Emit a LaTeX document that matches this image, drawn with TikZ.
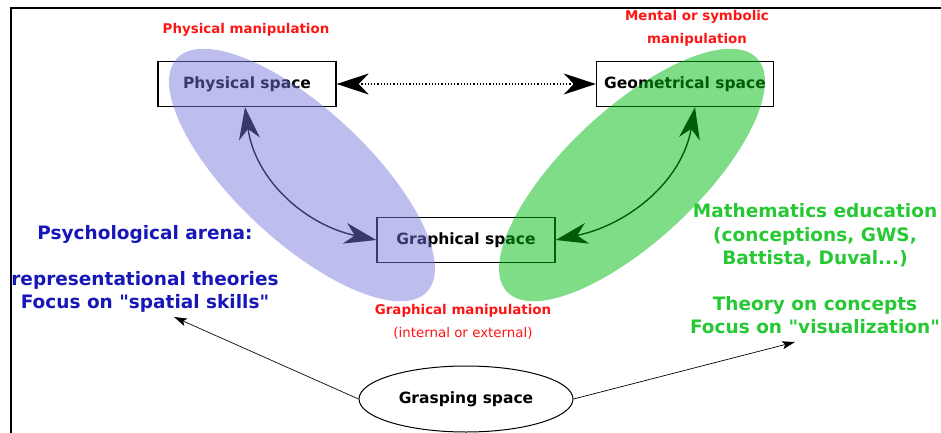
\documentclass[tikz,border=0pt]{standalone}
\usepackage{fontspec}
\setmainfont{DejaVu Sans}[Ligatures=TeXOff]
\usepackage{tikz}
\usetikzlibrary{positioning, calc, arrows.meta, shapes.geometric}

\definecolor{lavender}{RGB}{120,120,220}
\definecolor{leaf}{RGB}{0,185,16}
\definecolor{psyblue}{RGB}{22,22,185}
\definecolor{mathgreen}{RGB}{38,200,52}
\definecolor{manred}{RGB}{255,20,20}

\begin{document}
\begin{tikzpicture}[x=1pt,y=1pt,
        spacebox/.style={draw, line width=1.4pt, minimum width=178pt, minimum height=45pt, font=\fontsize{15.5}{18}\selectfont\bfseries},
        manlabel/.style={text=manred, font=\fontsize{13.4}{23}\selectfont\bfseries, align=center},
        theory/.style={font=\fontsize{18.5}{23.5}\selectfont\bfseries, align=center},
        bighead/.style={{Stealth[length=32pt,width=21pt,inset=10pt]}-{Stealth[length=32pt,width=21pt,inset=10pt]}},
        smallhead/.style={-{Stealth[length=13pt,width=8pt,inset=3pt]}, line width=0.7pt}]
        \useasboundingbox (0,0) rectangle (941,432);
        % Frame
        \begin{scope}
            \clip (0,0) rectangle (941,432);
            \draw[line width=1.6pt] (11,-30) rectangle (980,424);
        \end{scope}

        % Spaces
        \node[spacebox] (phys) at (247,348) {Physical space};
        \node[spacebox, minimum width=177pt] (geom) at (685,348) {Geometrical space};
        \node[spacebox] (graph) at (466,192) {Graphical space};
        \node[draw, ellipse, line width=1pt, minimum width=214pt, minimum height=66pt,
              font=\fontsize{15.5}{18}\selectfont\bfseries] (grasp) at (466,33) {Grasping space};

        % Manipulations
        \node[manlabel] (physman) at (246,402) {Physical manipulation};
        \node[manlabel] (mentman) at (697,404) {Mental or symbolic\\manipulation};
        \node[manlabel] (graphman) at (463,110) {Graphical manipulation\\{\mdseries(internal or external)}};

        % Arrows between spaces
        \draw[bighead, line width=1.2pt, dotted] (phys) -- (geom);
        \draw[bighead, line width=1.4pt] ([xshift=-2pt]phys.south) to[out=-82, in=168] (graph.west);
        \draw[bighead, line width=1.4pt] ([xshift=10pt]geom.south) to[out=-100, in=12] (graph.east);

        % Arenas
        \fill[lavender, opacity=0.48] (302,257) ellipse[x radius=171pt, y radius=66pt, rotate=-43];
        \fill[leaf, opacity=0.5] (632,257) ellipse[x radius=171pt, y radius=66pt, rotate=43];

        % Theories
        \node[theory, text=psyblue] (psy) at (145,163) {Psychological arena:\\[22pt]representational theories\\Focus on "spatial skills"};
        \node[theory, text=mathgreen] (math) at (815,163) {Mathematics education\\(conceptions, GWS,\\Battista, Duval...)\\[22pt]Theory on concepts\\Focus on "visualization"};
        \coordinate (psytip) at (174,115);
        \coordinate (mathtip) at (795,90);
        \draw[smallhead] (grasp.west) -- (psytip);
        \draw[smallhead] (grasp.east) -- (mathtip);
    \end{tikzpicture}
\end{document}
